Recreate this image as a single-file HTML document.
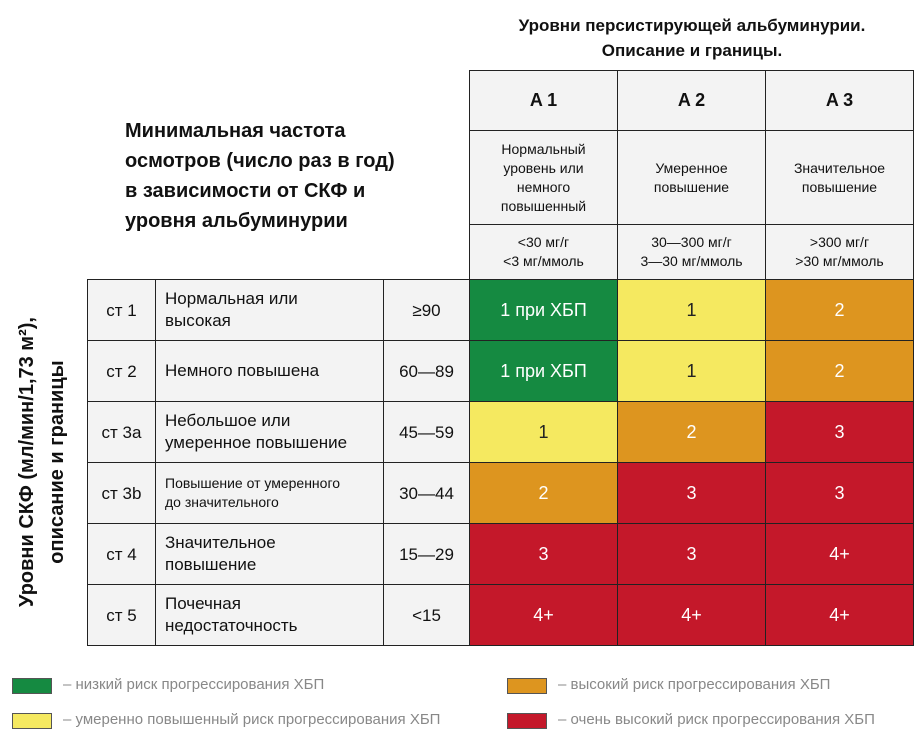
<!DOCTYPE html>
<html><head><meta charset="utf-8">
<style>
body{margin:0;width:915px;height:731px;background:#fff;position:relative;overflow:hidden;font-family:"Liberation Sans",sans-serif;color:#111}
.a{position:absolute;box-sizing:border-box}
.c{position:absolute;box-sizing:border-box;border:1px solid #222;display:flex;align-items:center;justify-content:center;text-align:center;background:#f3f3f3;font-size:14px;line-height:19px}
.cell{font-size:18px;color:#fff}
.leg-sq{position:absolute;width:40px;height:16px;border:1px solid #555;box-sizing:border-box}
.leg-t{position:absolute;font-family:"Liberation Sans Narrow","Liberation Sans",sans-serif;font-size:15px;color:#888;white-space:nowrap}
</style></head><body>
<div class="a" style="left:469px;top:13px;width:446px;text-align:center;font-weight:bold;font-size:17px;line-height:25px">Уровни персистирующей альбуминурии.<br>Описание и границы.</div>
<div class="a" style="left:125px;top:116px;font-weight:bold;font-size:20px;line-height:30px">Минимальная частота<br>осмотров (число раз в год)<br>в зависимости от СКФ и<br>уровня альбуминурии</div>
<div class="a" style="left:42px;top:462px;width:0;height:0">
 <div style="position:absolute;transform:translate(-50%,-50%) rotate(-90deg);white-space:nowrap;font-weight:bold;font-size:20px;line-height:30px;text-align:center">Уровни СКФ (мл/мин/1,73 м²),<br>описание и границы</div>
</div>
<div id="grid"></div>
<div id="legend"></div>
<script>
const colNames=["A 1","A 2","A 3"];
const colDesc=["Нормальный<br>уровень или<br>немного<br>повышенный","Умеренное<br>повышение","Значительное<br>повышение"];
const colRange=["&lt;30 мг/г<br>&lt;3 мг/ммоль","30—300 мг/г<br>3—30 мг/ммоль","&gt;300 мг/г<br>&gt;30 мг/ммоль"];
const stages=["ст 1","ст 2","ст 3a","ст 3b","ст 4","ст 5"];
const stageDesc=["Нормальная или<br>высокая","Немного повышена","Небольшое или<br>умеренное повышение","Повышение от умеренного<br>до значительного","Значительное<br>повышение","Почечная<br>недостаточность"];
const gfr=["≥90","60—89","45—59","30—44","15—29","&lt;15"];
const values=[["1 при ХБП","1","2"],["1 при ХБП","1","2"],["1","2","3"],["2","3","3"],["3","3","4+"],["4+","4+","4+"]];
const risk=[[0,1,2],[0,1,2],[1,2,3],[2,3,3],[3,3,4-1],[3,3,3]];
const riskColors=["#158a41","#f5e960","#dd951f","#c4182a"];
const riskLabels=["– низкий риск прогрессирования ХБП","– умеренно повышенный риск прогрессирования ХБП","– высокий риск прогрессирования ХБП","– очень высокий риск прогрессирования ХБП"];
const g=document.getElementById('grid');
const X0=469,CW=148,RY=279,RH=61;
function mk(x,y,w,h,html,cls,name){const d=document.createElement('div');d.className='c '+(cls||'');
d.style.left=x+'px';d.style.top=y+'px';d.style.width=(w+1)+'px';d.style.height=(h+1)+'px';d.innerHTML=html;


g.appendChild(d);return d;}
colNames.forEach((n,i)=>{
 const a=mk(X0+i*CW,70,CW,60,n,'','col-header');a.style.fontWeight='bold';a.style.fontSize='18px';
 mk(X0+i*CW,130,CW,94,colDesc[i],'','col-description');
 mk(X0+i*CW,224,CW,55,colRange[i],'','col-range');
});
stages.forEach((s,r)=>{
 const y=RY+r*RH;
 const a=mk(87,y,68,RH,s,'','stage-label');a.style.fontSize='17px';
 const b=mk(155,y,228,RH,stageDesc[r],'','stage-description');b.style.justifyContent='flex-start';b.style.textAlign='left';b.style.paddingLeft='9px';
 b.style.fontSize=r===3?'14px':'17px';b.style.lineHeight=r===3?'19px':'22px';
 const c=mk(383,y,86,RH,gfr[r],'','gfr-range');c.style.fontSize='17px';
 values[r].forEach((v,i)=>{const d=mk(X0+i*CW,y,CW,RH,v,'cell','heat-cell');
  d.style.background=riskColors[risk[r][i]];
  if(risk[r][i]===1)d.style.color='#222';});
});
const L=document.getElementById('legend');
riskLabels.forEach((t,i)=>{
 const x=i<2?12:507, y=i%2===0?678:713;
 const s=document.createElement('div');s.className='leg-sq';s.style.left=x+'px';s.style.top=y+'px';s.style.background=riskColors[i];
 
 
 L.appendChild(s);
 const l=document.createElement('div');l.className='leg-t';l.style.left=(x+51)+'px';l.style.top=(y-2)+'px';l.textContent=t;
 
 
 L.appendChild(l);
});
</script>
</body></html>
